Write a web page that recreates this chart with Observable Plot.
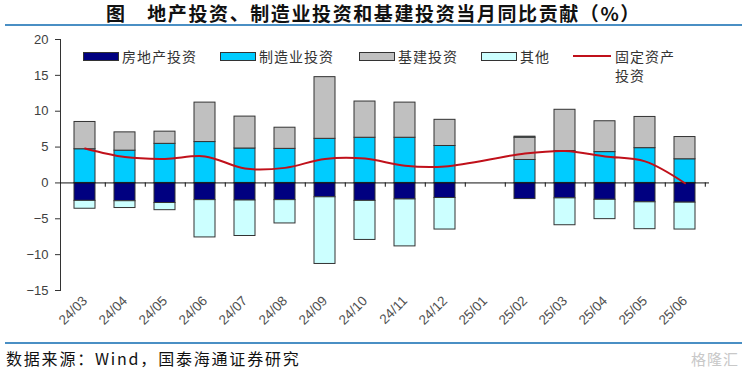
<!DOCTYPE html>
<html>
<head>
<meta charset="utf-8">
<script src="https://cdn.jsdelivr.net/npm/d3@7"></script>
<script src="https://cdn.jsdelivr.net/npm/@observablehq/plot@0.6"></script>
<style>
  html, body { margin: 0; padding: 0; background: #fff; }
  #page { position: relative; width: 747px; height: 375px; overflow: hidden; font-family: "Noto Sans CJK SC", sans-serif; }
  #title { position: absolute; left: 0; top: 1px; width: 747px; height: 24px; text-align: center; font-size: 19px; font-weight: bold; letter-spacing: 1.6px; line-height: 24px; color: #111; white-space: nowrap; }
  .rule { position: absolute; left: 5px; width: 737px; height: 2px; background: #4a8fc4; }
  #chart { position: absolute; left: 0; top: 28px; }
  #caption { position: absolute; left: 6px; top: 347px; font-size: 16px; letter-spacing: 1.8px; color: #111; line-height: 22px; white-space: nowrap; }
  #wm { position: absolute; right: 8px; top: 348px; font-size: 15px; color: #c8c8c8; letter-spacing: 1px; }
  .lg { position: absolute; font-size: 14px; letter-spacing: 1px; color: #333; line-height: 18px; }
  .sw { position: absolute; height: 7px; width: 34px; border: 1px solid #333; }
  .ln { position: absolute; height: 2px; width: 38px; background: #c0101a; }
</style>
</head>
<body>
<div id="page">
  <div id="title">图　地产投资、制造业投资和基建投资当月同比贡献（%）</div>
  <div class="rule" style="top:24px"></div>
  <div id="chart"></div>
  <div class="rule" style="top:342px"></div>
  <div id="caption">数据来源：Wind，国泰海通证券研究</div>
  <div id="wm">格隆汇</div>
  <div id="legend"></div>
</div>
<script>
const months = ["24/03","24/04","24/05","24/06","24/07","24/08","24/09","24/10","24/11","24/12","25/01","25/02","25/03","25/04","25/05","25/06"];
const seriesNames = ["房地产投资","制造业投资","基建投资","其他"];
const lineName = "固定资产投资";
const realEstate    = [-2.5,-2.55,-2.8,-2.4,-2.45,-2.4,-2.0,-2.5,-2.3,-2.1,null,-2.25,-2.15,-2.35,-2.7,-2.75];
const manufacturing = [4.7,4.5,5.45,5.7,4.8,4.75,6.15,6.3,6.3,5.15,null,3.2,4.45,4.3,4.85,3.3];
const infrastructure= [3.8,2.55,1.7,5.5,4.45,2.95,8.6,5.05,4.9,3.65,null,3.1,5.75,4.3,4.35,3.1];
const other         = [-1.1,-0.95,-1.0,-5.2,-4.95,-3.25,-9.3,-5.45,-6.55,-4.4,null,0.15,-3.75,-2.7,-3.75,-3.75];
const fai           = [4.8,3.6,3.35,3.7,2.0,2.1,3.35,3.4,2.4,2.3,null,4.1,4.45,3.7,3.0,-0.05];
const yTicks = [-15,-10,-5,0,5,10,15,20];
const colors = ["#000080","#00ccff","#c0c0c0","#ccffff"];
const lineColor = "#c0101a";

const seriesValues = [realEstate, manufacturing, infrastructure, other];
const bars = [];
months.forEach((m, i) => {
  seriesValues.forEach((arr, s) => {
    if (arr[i] != null) bars.push({month: m, series: seriesNames[s], value: arr[i]});
  });
});
const lineData = months.map((m, i) => ({month: m, value: fai[i]})).filter(d => d.value != null);

const W = 747, H = 312, mL = 60, mR = 38, mT = 11, mB = 50;
const step = (W - mL - mR) / months.length;

const chart = Plot.plot({
  width: W, height: H,
  marginLeft: mL, marginRight: mR, marginTop: mT, marginBottom: mB,
  style: {fontFamily: "'Liberation Sans', Arial, sans-serif", fontSize: "13px", color: "#404040", background: "#fff"},
  x: {domain: months, paddingInner: 0.47, paddingOuter: 0.235, label: null},
  y: {domain: [-15, 20], label: null},
  color: {domain: seriesNames, range: colors},
  marks: [
    Plot.frame({anchor: "left", stroke: "#333"}),
    Plot.axisY({ticks: yTicks, tickSize: 5, tickPadding: 7, fontSize: 13, stroke: "#333", label: null}),
    Plot.axisX({tickSize: 0, tickRotate: -45, tickPadding: 8, fontSize: 13.5, fill: "#505050", label: null}),
    Plot.barY(bars, {x: "month", y: "value", fill: "series", stroke: "#333", strokeWidth: 1}),
    Plot.ruleY([0], {stroke: "#111", strokeWidth: 1}),
    Plot.ruleX(months, {x: d => d, y1: 0, y2: -0.6, dx: step / 2, stroke: "#111"}),
    Plot.line(lineData, {x: "month", y: "value", stroke: lineColor, strokeWidth: 2, curve: "catmull-rom"})
  ]
});
document.getElementById("chart").appendChild(chart);

// legend
const lg = document.getElementById("legend");
const items = [
  {sx: 83, tx: 122, label: seriesNames[0], c: colors[0]},
  {sx: 220, tx: 259, label: seriesNames[1], c: colors[1]},
  {sx: 359, tx: 398, label: seriesNames[2], c: colors[2]},
  {sx: 481, tx: 520, label: seriesNames[3], c: colors[3]}
];
items.forEach(it => {
  const s = document.createElement("div");
  s.className = "sw"; s.style.left = it.sx + "px"; s.style.top = "52px"; s.style.background = it.c;
  lg.appendChild(s);
  const t = document.createElement("div");
  t.className = "lg"; t.style.left = it.tx + "px"; t.style.top = "47px"; t.textContent = it.label;
  lg.appendChild(t);
});
const l = document.createElement("div");
l.className = "ln"; l.style.left = "573px"; l.style.top = "55px";
lg.appendChild(l);
const lt = document.createElement("div");
lt.className = "lg"; lt.style.left = "615px"; lt.style.top = "47px"; lt.style.width = "62px";
lt.style.lineHeight = "19px";
lt.textContent = lineName;
lg.appendChild(lt);
</script>
</body>
</html>
